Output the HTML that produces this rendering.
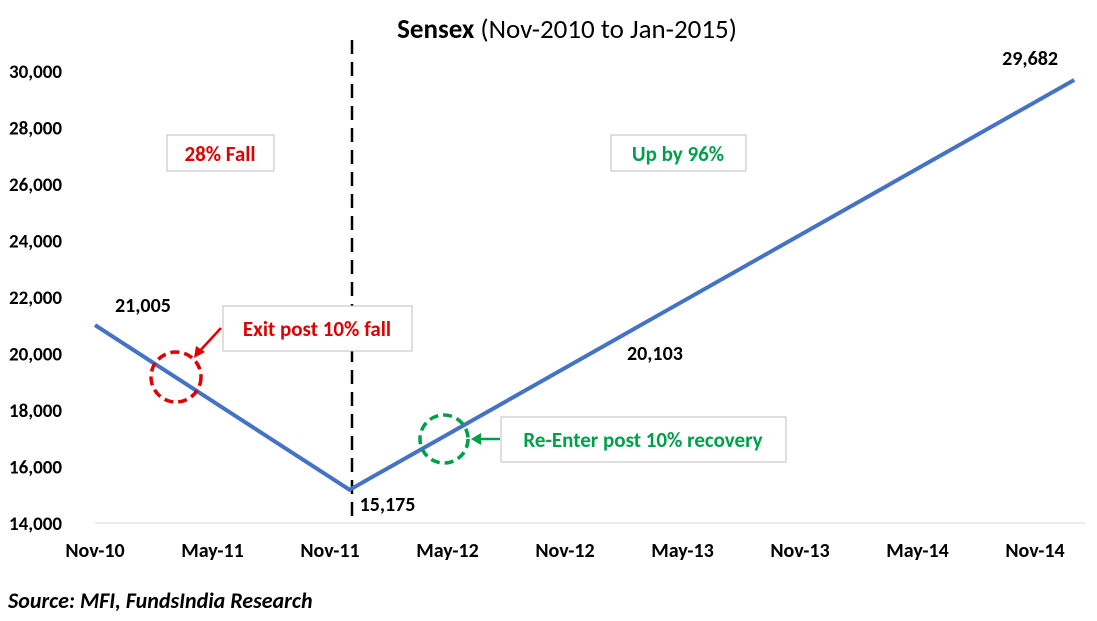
<!DOCTYPE html>
<html><head><meta charset="utf-8"><style>
body{margin:0;background:#fff;width:1097px;height:616px;overflow:hidden;font-family:"Liberation Sans",Arial,sans-serif}
svg text{font-family:"Calibri","Carlito","Liberation Sans",Arial,sans-serif}
</style></head><body>
<svg id="chart" width="1097" height="616" xmlns="http://www.w3.org/2000/svg">
<text x="567" y="38" text-anchor="middle" font-size="27" fill="#000"><tspan font-weight="bold">Sensex</tspan> (Nov-2010 to Jan-2015)</text>
<g id="yaxis"></g>
<g id="xaxis"></g>
<line x1="95" y1="523" x2="1085" y2="523" stroke="#d9d9d9" stroke-width="1"/>
<line x1="352" y1="40" x2="352" y2="516" stroke="#000" stroke-width="2.5" stroke-dasharray="14,8"/>
<g id="series"></g>
<rect x="167" y="135" width="107" height="36" fill="#fff" stroke="#bfbfbf"/>
<text x="220" y="161" text-anchor="middle" font-size="21" font-weight="bold" fill="#e00000">28% Fall</text>
<rect x="611" y="135" width="135" height="36" fill="#fff" stroke="#bfbfbf"/>
<text x="678" y="161" text-anchor="middle" font-size="21" font-weight="bold" fill="#00a04a">Up by 96%</text>
<rect x="223" y="306" width="189" height="45" fill="#fff" stroke="#bfbfbf"/>
<text x="317" y="336" text-anchor="middle" font-size="21" font-weight="bold" fill="#e00000">Exit post 10% fall</text>
<circle cx="176" cy="377" r="25" fill="none" stroke="#e00000" stroke-width="3.5" stroke-dasharray="9,5"/>
<line x1="221" y1="328" x2="197" y2="354" stroke="#e00000" stroke-width="2.5"/>
<polygon points="194,358 196,346 205,352" fill="#e00000"/>
<rect x="501" y="417" width="285" height="45" fill="#fff" stroke="#bfbfbf"/>
<text x="643" y="447" text-anchor="middle" font-size="21" font-weight="bold" fill="#00a04a">Re-Enter post 10% recovery</text>
<circle cx="444" cy="439" r="24" fill="none" stroke="#00a04a" stroke-width="3.5" stroke-dasharray="9,5"/>
<line x1="500" y1="439" x2="478" y2="439" stroke="#00a04a" stroke-width="2.5"/>
<polygon points="471,439 481,433 481,445" fill="#00a04a"/>
<text x="627" y="360" font-size="20" font-weight="bold" fill="#000">20,103</text>
<text x="8" y="608" font-size="22" font-weight="bold" font-style="italic" fill="#000">Source: MFI, FundsIndia Research</text>
</svg>
<script>
const yTicks=[14000,16000,18000,20000,22000,24000,26000,28000,30000];
const xLabels=["Nov-10","May-11","Nov-11","May-12","Nov-12","May-13","Nov-13","May-14","Nov-14"];
const months=[0,13,50];
const values=[21005,15175,29682];
const valueLabels=["21,005","15,175","29,682"];
const NS="http://www.w3.org/2000/svg";
function y(v){return 523-(v-14000)*(452/16000);}
function x(m){return 95+m*(940/48);}
function mk(tag,attrs,parent,txt){const e=document.createElementNS(NS,tag);for(const k in attrs)e.setAttribute(k,attrs[k]);if(txt!==undefined)e.textContent=txt;parent.appendChild(e);return e;}
const ya=document.getElementById('yaxis');
yTicks.forEach(v=>{const t=mk('text',{x:62,y:y(v)+7,'text-anchor':'end','font-size':19,'font-weight':'bold',fill:'#000'},ya,v.toLocaleString('en-US'));

});
const xa=document.getElementById('xaxis');
xLabels.forEach((l,i)=>{const t=mk('text',{x:x(i*6),y:557,'text-anchor':'middle','font-size':20,'font-weight':'bold',fill:'#000'},xa,l);

});
const s=document.getElementById('series');
const pts=months.map((m,i)=>x(m)+','+y(values[i])).join(' ');
const pl=mk('polyline',{points:pts,fill:'none',stroke:'#4472c4','stroke-width':4,'stroke-linejoin':'round'},s);


const offs=[[20,-13],[10,21],[-72,-15]];
values.forEach((v,i)=>{const t=mk('text',{x:x(months[i])+offs[i][0],y:y(values[i])+offs[i][1],'font-size':20,'font-weight':'bold',fill:'#000'},s,valueLabels[i]);

});
</script>
</body></html>
